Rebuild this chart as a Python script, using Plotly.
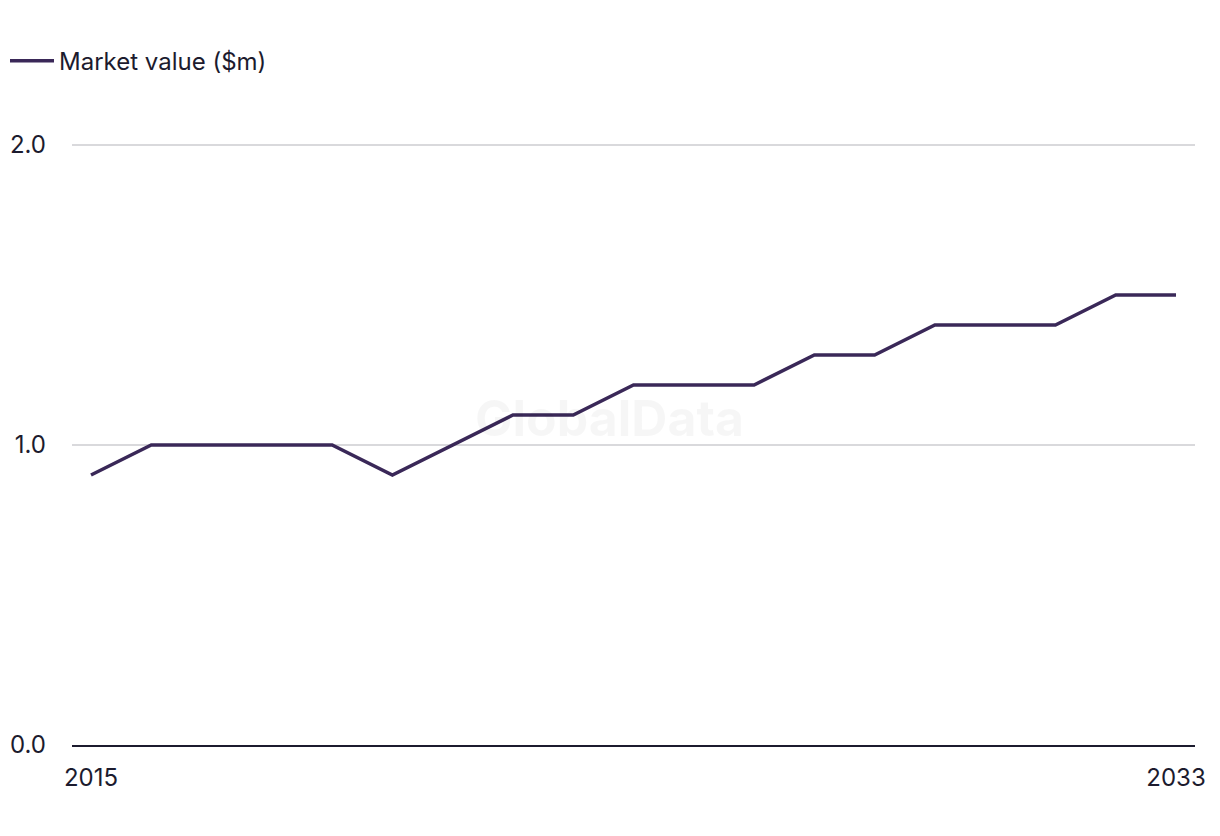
import plotly.graph_objects as go

years = list(range(2015, 2034))
market_value = [0.9, 1.0, 1.0, 1.0, 1.0, 0.9, 1.0, 1.1, 1.1, 1.2, 1.2, 1.2, 1.3, 1.3, 1.4, 1.4, 1.4, 1.5, 1.5]
series_name = "Market value ($m)"
x_tick_vals = [2015, 2033]
y_tick_vals = [0, 1, 2]
y_tick_text = ["0.0", "1.0", "2.0"]

FONT = "Inter"
TEXT = "#1c1b2e"
LINE = "#3a2858"
FS = 24

fig = go.Figure()
fig.add_trace(go.Scatter(
    x=years, y=market_value, mode="lines", name=series_name,
    line=dict(color=LINE, width=3.5),
))

fig.add_annotation(
    text="<b>GlobalData</b>", x=0.479, y=0.54, xref="paper", yref="paper",
    showarrow=False, font=dict(family=FONT, size=50, color="rgba(0,0,0,0.035)"),
)

fig.update_layout(
    width=1220, height=836,
    paper_bgcolor="white", plot_bgcolor="white",
    margin=dict(l=72, r=25, t=139, b=91, autoexpand=False),
    font=dict(family=FONT, size=FS, color=TEXT),
    showlegend=True,
    legend=dict(
        x=5 / 1220, xref="container", y=0.927, yref="container", yanchor="middle", xanchor="left",
        orientation="h", font=dict(size=FS, color=TEXT), itemwidth=44,
    ),
    xaxis=dict(
        range=[2014.685, 2033.315], tickvals=x_tick_vals, ticktext=[str(v) for v in x_tick_vals],
        showgrid=False, zeroline=False, showline=True, linecolor=TEXT, linewidth=2,
        ticks="", ticklabelstandoff=10, tickfont=dict(size=FS, color=TEXT),
    ),
    yaxis=dict(
        range=[0, 2.02], tickvals=y_tick_vals, ticktext=y_tick_text,
        showgrid=True, gridcolor="#d9d9dc", gridwidth=1.5, zeroline=False,
        ticks="", ticklabelstandoff=25, tickfont=dict(size=FS, color=TEXT),
    ),
)

fig.write_html("out.html")
